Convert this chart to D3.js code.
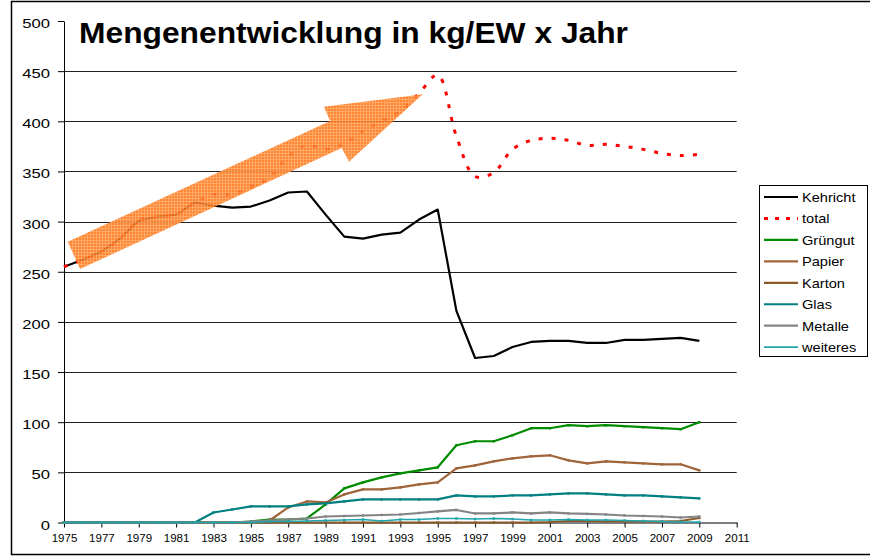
<!DOCTYPE html>
<html><head><meta charset="utf-8">
<script src="https://cdn.jsdelivr.net/npm/d3@7"></script>
<style>body{margin:0;background:#fff}text{font-family:Arial,"Liberation Sans",sans-serif}</style>
</head><body>
<svg id="c" width="870" height="560"></svg>
<script>
const years = [1975,1976,1977,1978,1979,1980,1981,1982,1983,1984,1985,1986,1987,1988,1989,1990,1991,1992,1993,1994,1995,1996,1997,1998,1999,2000,2001,2002,2003,2004,2005,2006,2007,2008,2009];
const kehricht = [255,262,270,283,301,305,307,319,316,314, 315,321,329,330,307,285,283,287,289,302, 312,211,164,166,175,180,181,181,179,179, 182,182,183,184,181];
const total = [255,262,270,283,301,305,307,319,327,327, 335,344,365,376,372,378,390,400,410,428, 446,385,345,349,372,381,383,381,376,377, 375,372,368,366,367];
const gruengut = [0,0,0,0,0,0,0,0,0,0, 1,3,3,4,18,34,40,45,49,52, 55,77,81,81,87,94,94,97,96,97, 96,95,94,93,100];
const papier = [0,0,0,0,0,0,0,0,0,0, 0,2,15,21,20,28,33,33,35,38, 40,54,57,61,64,66,67,62,59,61, 60,59,58,58,52];
const karton = [0,0,0,0,0,0,0,0,0,0, 0,0,0,0,0,0,0,0,0,0, 0,0,0,0,0,0,0.5,1.5,1.5,1, 1,1,1,1.5,4.5];
const glas = [0,0,0,0,0,0,0,0,10,13, 16,16,16,18,19,21,23,23,23,23, 23,27,26,26,27,27,28,29,29,28, 27,27,26,25,24];
const metalle = [0,0,0,0,0,0,0,0,0,0, 1,2,3,4,6,6.5,7,7.5,8,9.5, 11,12.5,9,9,10,9,10,9,8.5,8, 7,6.5,6,5,6];
const weiteres = [0,0,0,0,0,0,0,0,0,0, 0,1,1,1.5,2,2.5,3,1.5,3,3, 4,4,3.5,4,3.5,2.5,2.5,3,2.5,2.5, 2,1.5,1,0.5,0.5];
const seriesNames = ["Kehricht","total","Grüngut","Papier","Karton","Glas","Metalle","weiteres"];
const seriesColors = ["#000000","#ff0000","#008c00","#a0643a","#8b5a2b","#008080","#848484","#22a4ac"];
const yTicks = [0,50,100,150,200,250,300,350,400,450,500];
const xTicks = [1975,1977,1979,1981,1983,1985,1987,1989,1991,1993,1995,1997,1999,2001,2003,2005,2007,2009,2011];
const arrowYears = [1975.20,1989.24,1988.91,1994.20,1990.25,1989.86,1975.86];
const arrowVals = [280.0,400.3,414.6,426.9,359.7,373.4,252.7];
const title = "Mengenentwicklung in kg/EW x Jahr";

const svg = d3.select("#c");
const x = d3.scaleLinear().domain([1975,2011]).range([64,736.7]);
const y = d3.scaleLinear().domain([0,500]).range([522.5,21]);

svg.append("rect").attr("x",11.5).attr("y",1.5).attr("width",870).attr("height",553)
  .attr("fill","none").attr("stroke","#000").attr("stroke-width",1.5);

svg.append("g").selectAll("line").data(yTicks.filter(v=>v>0&&v<500)).join("line")
  .attr("x1",x(1975)).attr("x2",x(2011)).attr("y1",d=>Math.round(y(d))+0.5).attr("y2",d=>Math.round(y(d))+0.5)
  .attr("stroke","#222").attr("stroke-width",1);

const ya = svg.append("g").attr("transform",`translate(${x(1975)},0)`)
  .call(d3.axisLeft(y).tickValues(yTicks).tickSize(6).tickSizeOuter(0));
ya.select(".domain").attr("stroke","#000");
ya.selectAll(".tick line").attr("stroke","#000");
ya.selectAll(".tick text").attr("font-size",13).attr("fill","#000").attr("font-family","Arial, Liberation Sans")
  .attr("text-anchor","end").attr("dy",0).attr("y",6.5).attr("x",-14/1.28).attr("transform","scale(1.28,1)");

const xa = svg.append("g").attr("transform",`translate(0,${y(0)})`)
  .call(d3.axisBottom(x).tickValues(xTicks).tickFormat(d3.format("d")).tickSize(5).tickSizeOuter(0));
xa.select(".domain").attr("stroke","#000");
xa.selectAll(".tick line").attr("stroke","#000");
xa.selectAll(".tick text").attr("font-size",10.5).attr("fill","#000").attr("font-family","Arial, Liberation Sans")
  .attr("dy",0).attr("y",19.5).attr("transform","scale(1.1,1)");

const allSeries = [kehricht,total,gruengut,papier,karton,glas,metalle,weiteres];
const straight = d3.line().x((d,i)=>x(years[i])).y(d=>y(d));
const smooth = d3.line().x((d,i)=>x(years[i])).y(d=>y(d)).curve(d3.curveCatmullRom.alpha(0.5));
const widths = [2.2,3,2.2,2.2,2.2,2.2,2.2,1.6];
allSeries.forEach((s,k)=>{
  svg.append("path").datum(s).attr("d",k===1?smooth:straight).attr("fill","none")
    .attr("stroke",seriesColors[k]).attr("stroke-width",widths[k])
    .attr("stroke-dasharray",k===1?"4,9":null).attr("stroke-linejoin","round");
  if(k>=2){
    svg.append("g").selectAll("rect").data(s).join("rect")
      .attr("x",(d,i)=>x(years[i])-1.2).attr("y",d=>y(d)-1.2).attr("width",2.4).attr("height",2.4)
      .attr("fill",seriesColors[k]);
  }
});

const defs = svg.append("defs");
const pat = defs.append("pattern").attr("id","hatch").attr("patternUnits","userSpaceOnUse").attr("width",3).attr("height",3);
pat.append("rect").attr("width",3).attr("height",3).attr("fill","#ff7414");
pat.append("rect").attr("width",3).attr("height",1).attr("fill","#ff9d55");
pat.append("rect").attr("width",1).attr("height",3).attr("fill","#ff9d55");
svg.append("polygon")
  .attr("points",arrowYears.map((a,i)=>[x(a),y(arrowVals[i])].join(",")).join(" "))
  .attr("fill","url(#hatch)").attr("opacity",0.88);

svg.append("text").attr("x",79).attr("y",43).attr("font-size",30).attr("font-weight","bold")
  .attr("textLength",549).attr("lengthAdjust","spacingAndGlyphs").attr("fill","#000").text(title);

const lg = svg.append("g");
lg.append("rect").attr("x",759.5).attr("y",185.5).attr("width",108).attr("height",171)
  .attr("fill","#fff").attr("stroke","#000").attr("stroke-width",1);
seriesNames.forEach((n,i)=>{
  const cy = 197 + i*21.45;
  lg.append("line").attr("x1",764).attr("x2",798).attr("y1",cy).attr("y2",cy)
    .attr("stroke",seriesColors[i]).attr("stroke-width",i===1?3:(i===7?1.6:2.2))
    .attr("stroke-dasharray",i===1?"4,7":null);
  lg.append("text").attr("x",802/1.08).attr("y",cy+5).attr("font-size",13.5)
    .attr("transform","scale(1.08,1)").attr("fill","#000").text(n);
});
</script>
</body></html>
